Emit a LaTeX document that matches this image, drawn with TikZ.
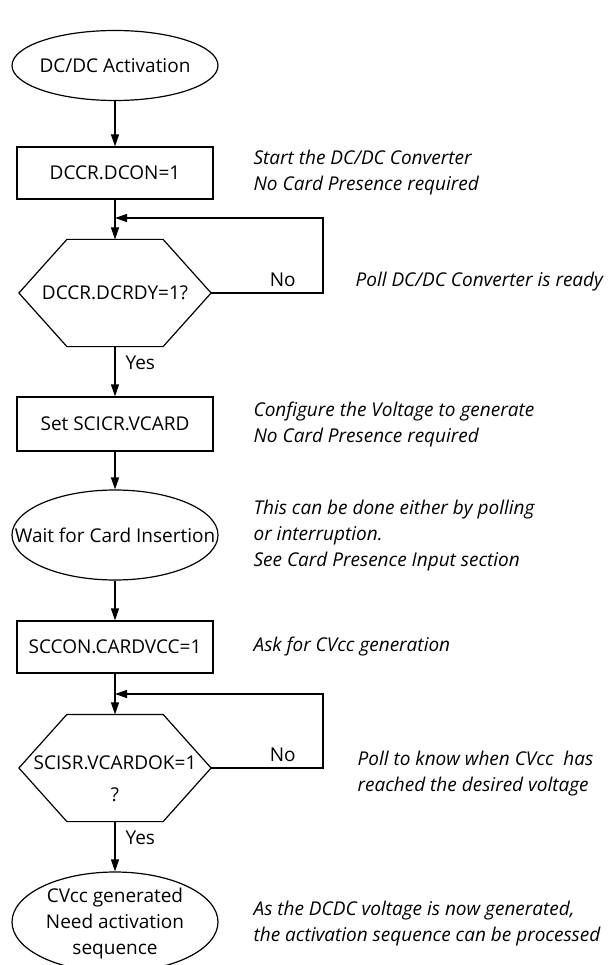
\documentclass[tikz,border=0pt]{standalone}
\usepackage{fontspec}
\setmainfont{Open Sans}
\usetikzlibrary{shapes.geometric,arrows.meta,calc}
\begin{document}
\begin{tikzpicture}[x=1pt,y=-1pt,
  line width=1.2pt,
  txt/.style={font=\fontsize{19}{26}\selectfont, inner sep=0pt, align=center},
  proc/.style={draw, rectangle, minimum width=196pt, minimum height=52pt, inner sep=0pt, font=\fontsize{19}{26}\selectfont},
  term/.style={draw, ellipse, minimum width=206pt, inner sep=0pt},
  hexbox/.style={rectangle, minimum width=191pt, minimum height=106pt, inner sep=0pt},
  note/.style={font=\itshape\fontsize{19}{26}\selectfont, anchor=west, align=left, inner sep=0pt},
  arr/.style={-{Triangle[length=12pt,width=8pt]}}
]
\useasboundingbox (0,0) rectangle (611,965);

% nodes
\node[term, minimum height=70pt] (e1) at (115,65.5) {};
\node[txt] (e1t) at (e1) {DC/DC Activation};
\node[proc] (b1) at (115,173) {DCCR.DCON=1};
\node[hexbox] (h1) at (115,293) {};
\node[txt] (h1t) at (h1) {DCCR.DCRDY=1?};
\node[proc, minimum height=54pt] (b2) at (115,424) {Set SCICR.VCARD};
\node[term, minimum height=90pt] (e2) at (115,535) {};
\node[txt] (e2t) at (e2) {Wait for Card Insertion};
\node[proc] (b3) at (115,647) {SCCON.CARDVCC=1};
\node[hexbox] (h2) at (115,768) {};
\node[txt, font=\fontsize{19}{32}\selectfont] (h2t) at (115,779) {SCISR.VCARDOK=1\\?};
\node[term, minimum height=100pt] (e3) at (115,922) {};
\node[txt] (e3t) at (115,924) {CVcc generated\\Need activation\\sequence};

% hexagons
\foreach \h in {h1,h2}{
  \draw (\h.west) -- ($(\h.north west)+(48,0)$) -- ($(\h.north east)+(-48,0)$)
    -- (\h.east) -- ($(\h.south east)+(-48,0)$) -- ($(\h.south west)+(48,0)$) -- cycle;
}

% connectors
\coordinate (f1) at (323,218);
\coordinate (f2) at (323,694);
\draw[arr] (e1.south) -- (b1.north);
\draw[arr] (b1.south) -- (h1.north);
\draw[arr] (h1.east) -- node[txt, pos=0.64, above=6pt] {No} (f1 |- h1.east) -- (f1) -- (b1.south |- f1);
\draw[arr] (h1.south) -- node[txt, pos=0.33, right=10pt] {Yes} (b2.north);
\draw[arr] (b2.south) -- (e2.north);
\draw[arr] (e2.south) -- (b3.north);
\draw[arr] (b3.south) -- (h2.north);
\draw[arr] (h2.east) -- node[txt, pos=0.64, above=6pt] {No} (f2 |- h2.east) -- (f2) -- (b3.south |- f2);
\draw[arr] (h2.south) -- node[txt, pos=0.33, right=10pt] {Yes} (e3.north);

% notes
\node[note] (n1) at (253,172.5) {Start the DC/DC Converter\\No Card Presence required};
\node[note] (n2) at (355,282) {Poll DC/DC Converter is ready};
\node[note] (n3) at (253,424.5) {Configure the Voltage to generate\\No Card Presence required};
\node[note] (n4) at (253,536) {This can be done either by polling\\or interruption.\\See Card Presence Input section};
\node[note] (n5) at (253,647) {Ask for CVcc generation};
\node[note] (n6) at (357,773.5) {Poll to know when CVcc\ \ has\\reached the desired voltage};
\node[note] (n7) at (253,924) {As the DCDC voltage is now generated,\\the activation sequence can be processed};
\end{tikzpicture}
\end{document}
